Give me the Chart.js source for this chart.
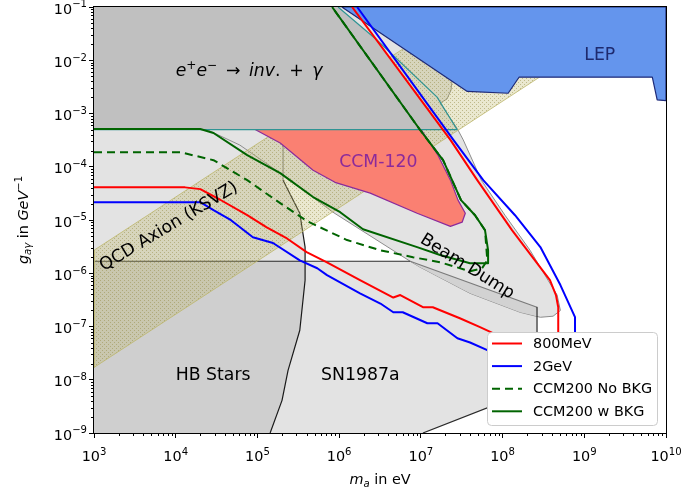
<!DOCTYPE html>
<html>
<head>
<meta charset="utf-8">
<title>Axion-photon coupling limits</title>
<script src="https://cdn.jsdelivr.net/npm/chart.js@4.4.0/dist/chart.umd.min.js"></script>
<style>
  body { margin: 0; background: #ffffff; }
  canvas { display: block; }
</style>
</head>
<body>
<canvas id="myChart" width="682" height="498"></canvas>
<script>
// ---- axis ticks ----
const xTicks = [1e3, 1e4, 1e5, 1e6, 1e7, 1e8, 1e9, 1e10];
const xTickExp = ['3', '4', '5', '6', '7', '8', '9', '10'];
const yTicks = [1e-9, 1e-8, 1e-7, 1e-6, 1e-5, 1e-4, 1e-3, 1e-2, 1e-1];
const yTickExp = ['−9', '−8', '−7', '−6', '−5', '−4', '−3', '−2', '−1'];

// ---- sensitivity curves (m_a in eV, g in GeV^-1) ----
const mev800X = [1e3, 1.3e4, 2.0e4, 3.5e4, 7.5e4, 1.3e5, 2.3e5, 4.0e5, 7.1e5, 1.8e6, 4.6e6, 5.6e6, 1.06e7, 1.4e7, 3.0e7, 5.3e7, 9.3e7, 1.64e8, 4.8e8, 4.8e8, 4.5e8, 3.8e8, 1.31e8, 4.9e7, 2.3e7, 1.44e6];
const mev800Y = [4.1e-5, 4.1e-5, 3.8e-5, 2.4e-5, 1.23e-5, 7.3e-6, 4.5e-6, 2.5e-6, 1.6e-6, 7.4e-7, 3.5e-7, 3.9e-7, 2.3e-7, 2.3e-7, 1.43e-7, 9.7e-8, 6.5e-8, 4.4e-8, 4.4e-8, 2.3e-7, 3.9e-7, 7.4e-7, 6.4e-6, 5.6e-5, 3.2e-4, 0.1];

const gev2X = [1e3, 2.0e4, 2.9e4, 4.75e4, 8.8e4, 1.55e5, 3.3e5, 5.4e5, 7.1e5, 1.8e6, 3.2e6, 4.6e6, 6.0e6, 1.2e7, 1.6e7, 2.8e7, 4.0e7, 6.5e7, 1.64e8, 7.7e8, 7.7e8, 5.1e8, 2.9e8, 1.42e8, 5.8e7, 2.5e7, 1.66e6];
const gev2Y = [2.16e-5, 2.16e-5, 1.53e-5, 9.9e-6, 4.75e-6, 3.7e-6, 1.75e-6, 1.24e-6, 9.2e-7, 4.2e-7, 2.7e-7, 1.85e-7, 1.85e-7, 1.15e-7, 1.15e-7, 6.0e-8, 5.0e-8, 3.6e-8, 2.3e-8, 2.3e-8, 1.5e-7, 6.0e-7, 3.1e-6, 1.23e-5, 5.6e-5, 3.2e-4, 0.1];

const ccmNoBkgX = [1e3, 1.13e4, 2.9e4, 7.5e4, 1.9e5, 4.05e5, 1.25e6, 3.2e6, 8.0e6, 1.72e7, 4.0e7, 5.6e7, 6.5e7, 6.1e7, 4.6e7, 3.1e7, 1.87e7, 9.8e6, 8.2e5];
const ccmNoBkgY = [1.88e-4, 1.88e-4, 1.33e-4, 5.6e-5, 2.07e-5, 9.5e-6, 4.2e-6, 2.7e-6, 2.0e-6, 1.61e-6, 1.09e-6, 1.24e-6, 1.75e-6, 6.4e-6, 1.23e-5, 2.36e-5, 1.33e-4, 4.9e-4, 0.1];

const ccmBkgX = [1e3, 2.0e4, 2.9e4, 7.5e4, 1.9e5, 4.8e5, 1.03e6, 1.96e6, 9.0e6, 1.72e7, 4.0e7, 6.65e7, 6.65e7, 6.1e7, 4.6e7, 3.1e7, 1.87e7, 9.8e6, 8.2e5];
const ccmBkgY = [5.1e-4, 5.1e-4, 4.3e-4, 1.65e-4, 7.6e-5, 2.7e-5, 1.4e-5, 6.7e-6, 3.1e-6, 2.2e-6, 1.54e-6, 1.54e-6, 2.7e-6, 6.4e-6, 1.23e-5, 2.36e-5, 1.33e-4, 4.9e-4, 0.1];

// ---- excluded regions ----
const ccm120X = [7.5e4, 1.9e5, 4.8e5, 8.9e5, 2.4e6, 9.0e6, 2.3e7, 3.2e7, 3.5e7, 2.85e7, 2.3e7, 1.62e7, 9.3e6];
const ccm120Y = [6e-4, 2.8e-4, 8.6e-5, 5.1e-5, 3.2e-5, 1.34e-5, 7.6e-6, 9.1e-6, 1.34e-5, 2.36e-5, 5.6e-5, 1.65e-4, 6e-4];

const lepX = [1.08e6, 1e10, 1e10, 7.8e9, 6.8e9, 1.59e8, 1.17e8, 3.7e7];
const lepY = [0.1, 0.1, 1.75e-3, 1.8e-3, 4.8e-3, 4.8e-3, 2.4e-3, 2.6e-3];

// e+e- -> inv + gamma: filled part and its teal outline
const eeX = [1e3, 1.87e7, 4.44e6, 2.9e6, 9.7e5, 1e3];
const eeY = [5.0e-4, 5.0e-4, 9.25e-3, 2.4e-2, 0.1, 0.1];
const eeEdgeX = [1e3, 2.77e7, 1.58e7, 2.9e6, 9.7e5];
const eeEdgeY = [5.0e-4, 5.0e-4, 2.03e-3, 2.4e-2, 0.1];

const beamDumpX = [1.08e6, 2.41e7, 2.34e7, 2.09e7, 1.72e7, 2.77e7, 3.3e7, 5.5e7, 1.07e8, 2.17e8, 3.6e8, 4.65e8, 5.1e8, 4.15e8, 2.9e8, 1.64e8, 4.0e7, 9.8e6, 7.4e6, 8.4e5, 2.06e5, 6.1e4, 2.4e4, 1e3, 1e3];
const beamDumpY = [0.1, 4.24e-3, 2.75e-3, 1.87e-3, 1.57e-3, 5.3e-4, 3.2e-4, 5.6e-5, 1.23e-5, 2.7e-6, 7.4e-7, 3.9e-7, 2.0e-7, 1.56e-7, 1.49e-7, 1.85e-7, 4.2e-7, 1.3e-6, 1.68e-6, 1.4e-5, 7.0e-5, 2.55e-4, 5.0e-4, 5.0e-4, 0.1];

const snX = [1e3, 2.4e4, 6.1e4, 2.06e5, 2.06e5, 3.3e5, 3.83e5, 3.83e5, 7.4e6, 2.64e8, 2.64e8, 1.06e7, 1e3];
const snY = [5.0e-4, 5.0e-4, 2.55e-4, 7.0e-5, 5.6e-5, 1.34e-5, 3.1e-6, 1.68e-6, 1.68e-6, 2.3e-7, 6.9e-9, 1e-9, 1e-9];
const snEdgeX = [1e3, 7.4e6, 2.64e8, 2.64e8, 1.06e7];
const snEdgeY = [1.68e-6, 1.68e-6, 2.3e-7, 6.9e-9, 1e-9];

const hbX = [1e3, 3.83e5, 3.83e5, 3.3e5, 2.37e5, 2.0e5, 1.43e5, 1e3];
const hbY = [1.68e-6, 1.68e-6, 7.4e-7, 8.5e-8, 1.5e-8, 4.1e-9, 1e-9, 1e-9];
const hbEdgeX = [2.06e5, 2.06e5, 3.3e5, 3.83e5, 3.83e5, 3.3e5, 2.37e5, 2.0e5, 1.43e5];
const hbEdgeY = [2.8e-4, 5.6e-5, 1.34e-5, 3.1e-6, 7.4e-7, 8.5e-8, 1.5e-8, 4.1e-9, 1e-9];

const lensX = [7.4e6, 2.64e8, 2.64e8, 1.64e8, 4.0e7, 9.8e6];
const lensY = [1.68e-6, 2.3e-7, 1.56e-7, 1.85e-7, 4.2e-7, 1.3e-6];

// QCD axion (KSVZ) band corners
const ksvzX = [1e3, 3e8, 3.7e7, 1e3];
const ksvzY = [1.7e-8, 5.1e-3, 0.1, 2.7e-6];

const FONT = '"DejaVu Sans"';

function pts(xs, ys, close) {
  const p = xs.map((x, i) => ({ x: x, y: ys[i] }));
  if (close) p.push({ x: xs[0], y: ys[0] });
  return p;
}

// dotted hatch like matplotlib '....'
function makeHatch() {
  const c = document.createElement('canvas');
  c.width = 4;
  c.height = 4;
  const g = c.getContext('2d');
  g.fillStyle = 'rgba(189,183,107,0.32)';
  g.fillRect(0, 0, 4, 4);
  g.fillStyle = 'rgba(150,140,70,0.5)';
  g.fillRect(0, 0, 1, 1);
  g.fillRect(2, 2, 1, 1);
  return g.createPattern(c, 'repeat');
}

function area(xs, ys, fillColor, lineColor, lineWidth, order) {
  return {
    data: pts(xs, ys, true),
    fill: 'shape',
    backgroundColor: fillColor,
    borderColor: lineColor || 'rgba(0,0,0,0)',
    borderWidth: lineWidth || 0,
    order: order
  };
}

function curve(xs, ys, color, width, order, dash) {
  return {
    data: pts(xs, ys, false),
    fill: false,
    borderColor: color,
    borderWidth: width,
    borderDash: dash || [],
    order: order
  };
}

// text with super/subscripts, parts = [[text, style]] ; style: i italic, ^ sup, _ sub
function rich(ctx, parts, x, y, size, align, color) {
  const fontOf = s => (s.includes('i') ? 'italic ' : '') +
    ((s.includes('^') || s.includes('_')) ? size * 0.7 : size) + 'px ' + FONT;
  let w = 0;
  for (const [t, s] of parts) {
    ctx.font = fontOf(s);
    w += ctx.measureText(t).width;
  }
  let cx = align === 'center' ? x - w / 2 : (align === 'right' ? x - w : x);
  ctx.fillStyle = color;
  ctx.textAlign = 'left';
  ctx.textBaseline = 'alphabetic';
  for (const [t, s] of parts) {
    ctx.font = fontOf(s);
    const dy = s.includes('^') ? -size * 0.42 : (s.includes('_') ? size * 0.22 : 0);
    ctx.fillText(t, cx, y + dy);
    cx += ctx.measureText(t).width;
  }
}

function rotated(ctx, text, px, py, deg, size) {
  ctx.save();
  ctx.translate(px, py);
  ctx.rotate(deg * Math.PI / 180);
  ctx.font = size + 'px ' + FONT;
  ctx.textAlign = 'center';
  ctx.textBaseline = 'alphabetic';
  ctx.fillStyle = '#000';
  ctx.fillText(text, 0, size * 0.36);
  ctx.restore();
}

const decorPlugin = {
  id: 'decor',
  afterDatasetsDraw(chart) {
    const ctx = chart.ctx;
    const sx = chart.scales.x, sy = chart.scales.y;
    ctx.save();
    // region labels
    rich(ctx, [['e', 'i'], ['+', '^'], ['e', 'i'], ['−', '^'], ['\u2002→\u2002', ''], ['inv', 'i'], ['.\u2002+\u2002', ''], ['γ', 'i']],
      sx.getPixelForValue(1e4), sy.getPixelForValue(5e-3), 17.3, 'left', '#000');
    rich(ctx, [['LEP', '']], sx.getPixelForValue(1e9), sy.getPixelForValue(1e-2), 17.3, 'left', '#1e2a6e');
    rich(ctx, [['CCM-120', '']], sx.getPixelForValue(1e6), sy.getPixelForValue(1e-4), 17.3, 'left', '#8b2a9b');
    rich(ctx, [['HB Stars', '']], sx.getPixelForValue(1e4), sy.getPixelForValue(1e-8), 17.3, 'left', '#000');
    rich(ctx, [['SN1987a', '']], sx.getPixelForValue(6e5), sy.getPixelForValue(1e-8), 17.3, 'left', '#000');
    rotated(ctx, 'QCD Axion (KSVZ)', sx.getPixelForValue(8.05e3), sy.getPixelForValue(7.98e-6), -31, 17.3);
    rotated(ctx, 'Beam Dump', sx.getPixelForValue(3.78e7), sy.getPixelForValue(1.41e-6), 32, 17.3);
    ctx.restore();
  },
  afterDraw(chart) {
    const ctx = chart.ctx;
    const a = chart.chartArea;
    const sx = chart.scales.x, sy = chart.scales.y;
    ctx.save();

    // frame
    ctx.strokeStyle = '#000';
    ctx.lineWidth = 1;
    ctx.strokeRect(a.left - 0.5, a.top - 0.5, a.right - a.left + 1, a.bottom - a.top + 1);

    // minor ticks
    ctx.beginPath();
    for (let d = 3; d < 10; d++) {
      for (let k = 2; k < 10; k++) {
        const px = Math.round(sx.getPixelForValue(k * Math.pow(10, d))) + 0.5;
        ctx.moveTo(px, a.bottom);
        ctx.lineTo(px, a.bottom + 3);
      }
    }
    for (let d = -9; d < -1; d++) {
      for (let k = 2; k < 10; k++) {
        const py = Math.round(sy.getPixelForValue(k * Math.pow(10, d))) + 0.5;
        ctx.moveTo(a.left, py);
        ctx.lineTo(a.left - 3, py);
      }
    }
    ctx.stroke();

    // tick labels
    xTicks.forEach((v, i) => {
      rich(ctx, [['10', ''], [xTickExp[i], '^']], sx.getPixelForValue(v), a.bottom + 28, 14.4, 'center', '#000');
    });
    yTicks.forEach((v, i) => {
      rich(ctx, [['10', ''], [yTickExp[i], '^']], a.left - 7, sy.getPixelForValue(v) + 6.5, 14.4, 'right', '#000');
    });

    // axis titles
    rich(ctx, [['m', 'i'], ['a', 'i_'], [' in eV', '']], (a.left + a.right) / 2, 484, 14.4, 'center', '#000');
    ctx.save();
    ctx.translate(28, (a.top + a.bottom) / 2);
    ctx.rotate(-Math.PI / 2);
    rich(ctx, [['g', 'i'], ['aγ', 'i_'], [' in ', ''], ['GeV', 'i'], ['−1', '^']], 0, 0, 14.4, 'center', '#000');
    ctx.restore();

    // legend
    const items = chart.data.datasets.filter(d => d.legendText);
    const lx = 487.5, ly = 332.5, lw = 170, lh = 93;
    ctx.beginPath();
    ctx.roundRect(lx, ly, lw, lh, 4);
    ctx.fillStyle = '#ffffff';
    ctx.fill();
    ctx.strokeStyle = '#cccccc';
    ctx.lineWidth = 1;
    ctx.stroke();
    items.forEach((d, i) => {
      const y = 343.5 + i * 22.6;
      ctx.beginPath();
      ctx.setLineDash(d.borderDash || []);
      ctx.strokeStyle = d.borderColor;
      ctx.lineWidth = d.borderWidth;
      ctx.moveTo(492, y);
      ctx.lineTo(522, y);
      ctx.stroke();
      ctx.setLineDash([]);
      ctx.font = '14.4px ' + FONT;
      ctx.fillStyle = '#000';
      ctx.textAlign = 'left';
      ctx.textBaseline = 'middle';
      ctx.fillText(d.legendText, 533, y + 1);
    });
    ctx.restore();
  }
};

const red = curve(mev800X, mev800Y, '#ff0000', 2, 20);
red.legendText = '800MeV';
const blue = curve(gev2X, gev2Y, '#0000ff', 2, 10);
blue.legendText = '2GeV';
const dashed = curve(ccmNoBkgX, ccmNoBkgY, '#006400', 2, 40, [8, 5]);
dashed.legendText = 'CCM200 No BKG';
const solid = curve(ccmBkgX, ccmBkgY, '#006400', 2, 30);
solid.legendText = 'CCM200 w BKG';

const hbLine = curve(hbEdgeX, hbEdgeY, '#1a1a1a', 1.2, 79);
hbLine.segment = { borderColor: c => (c.p0DataIndex === 0 ? '#8a8a8a' : '#1a1a1a') };

const snLine = curve(snEdgeX, snEdgeY, '#3c3c3c', 1.2, 80);
snLine.segment = { borderColor: c => (c.p0DataIndex === 1 ? '#7a7a7a' : '#2a2a2a') };

const datasets = [
  red, blue, dashed, solid,
  area(snX, snY, '#e3e3e3', null, 0, 100),
  area(beamDumpX, beamDumpY, '#e3e3e3', '#8c8c8c', 1, 95),
  area(hbX, hbY, '#cfcfcf', null, 0, 90),
  area(lensX, lensY, '#d2d2d2', null, 0, 85),
  snLine,
  hbLine,
  area(ksvzX, ksvzY, makeHatch(), 'rgba(189,183,107,0.8)', 1, 70),
  area(ccm120X, ccm120Y, '#fa8072', '#8b2a9b', 1.2, 65),
  area(eeX, eeY, '#c0c0c0', null, 0, 60),
  curve(eeEdgeX, eeEdgeY, '#2e9494', 1.2, 58),
  area(lepX, lepY, '#6495ed', '#1e2a78', 1.2, 50)
];

const myChart = new Chart(document.getElementById('myChart').getContext('2d'), {
  type: 'line',
  data: { datasets: datasets },
  options: {
    responsive: false,
    animation: false,
    devicePixelRatio: 1,
    events: [],
    layout: { padding: { left: 0, right: 16, top: 7, bottom: 0 } },
    elements: {
      point: { radius: 0, hoverRadius: 0 },
      line: { tension: 0, borderJoinStyle: 'round' }
    },
    plugins: {
      legend: { display: false },
      tooltip: { enabled: false }
    },
    scales: {
      x: {
        type: 'logarithmic',
        min: 1e3,
        max: 1e10,
        afterBuildTicks: s => { s.ticks = xTicks.map(v => ({ value: v })); },
        afterFit: s => { s.height = 65; s.paddingLeft = 0; s.paddingRight = 0; },
        ticks: { display: false },
        grid: { drawOnChartArea: false, drawTicks: true, tickLength: 5, tickColor: '#000', tickWidth: 1 },
        border: { display: true, color: '#000', width: 1 }
      },
      y: {
        type: 'logarithmic',
        min: 1e-9,
        max: 1e-1,
        afterBuildTicks: s => { s.ticks = yTicks.map(v => ({ value: v })); },
        afterFit: s => { s.width = 94; s.paddingTop = 0; s.paddingBottom = 0; },
        ticks: { display: false },
        grid: { drawOnChartArea: false, drawTicks: true, tickLength: 5, tickColor: '#000', tickWidth: 1 },
        border: { display: true, color: '#000', width: 1 }
      }
    }
  },
  plugins: [decorPlugin]
});
</script>
</body>
</html>
